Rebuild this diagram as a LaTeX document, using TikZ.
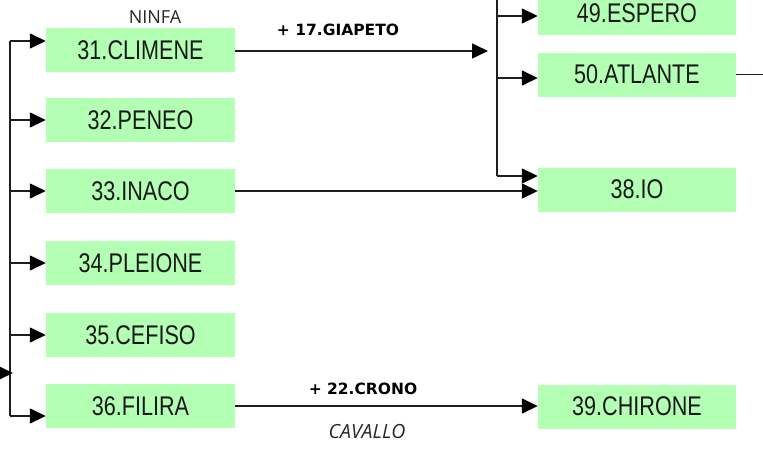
\documentclass[tikz,border=0pt]{standalone}
\usepackage{fontspec}
\setmainfont{Liberation Sans}
\newfontfamily\boxfont[FakeStretch=0.8]{Liberation Sans}
\newfontfamily\labfont{DejaVu Sans}
\newfontfamily\notefont{Open Sans}
\usetikzlibrary{arrows.meta}
\definecolor{boxgreen}{HTML}{B3FFB3}
\definecolor{linegray}{HTML}{1E1E1E}

\tikzset{
  person/.style={fill=boxgreen, draw=none, inner sep=0pt,
    minimum height=44pt, text=black!90,
    font=\boxfont\fontsize{27}{27}\selectfont},
  leftcol/.style={person, minimum width=189pt},
  rightcol/.style={person, minimum width=198pt},
  link/.style={draw=linegray, line width=1.5pt},
  arr/.style={link, -{Triangle[length=16pt,width=15pt,color=black]}},
  spouse/.style={font=\labfont\bfseries\fontsize{15.5}{15.5}\selectfont, text=black},
  note/.style={font=\notefont\fontsize{18}{18}\selectfont, text=black!85},
}

\begin{document}
\begin{tikzpicture}[x=1pt,y=1pt]
  \useasboundingbox (0,0) rectangle (763,-450);

  % left column: children
  \node[leftcol] (c31) at (140.5,-50)  {31.CLIMENE};
  \node[leftcol] (c32) at (140.5,-120) {32.PENEO};
  \node[leftcol] (c33) at (140.5,-191) {33.INACO};
  \node[leftcol] (c34) at (140.5,-263) {34.PLEIONE};
  \node[leftcol] (c35) at (140.5,-335) {35.CEFISO};
  \node[leftcol] (c36) at (140.5,-406) {36.FILIRA};

  % right column: grandchildren
  \node[rightcol] (c49) at (637,-13)    {49.ESPERO};
  \node[rightcol] (c50) at (637,-74.5)  {50.ATLANTE};
  \node[rightcol] (c38) at (637,-189.5) {38.IO};
  \node[rightcol] (c39) at (637,-406.5) {39.CHIRONE};

  % labels
  \node[note] (ninfa) at (155,-17) {NINFA};
  \node[spouse] (giap) at (338,-30) {+ 17.GIAPETO};
  \node[spouse] (cron) at (363,-389) {+ 22.CRONO};
  \node[note, font=\notefont\itshape\fontsize{19.5}{19.5}\selectfont] (cav) at (367,-432) {CAVALLO};

  % left trunk
  \coordinate (ltop) at (10,-41);
  \coordinate (lbot) at (10,-416);
  \coordinate (lin)  at (13,-373);
  \coordinate (lsrc) at (-20,-373);
  \draw[link] (ltop) -- (lbot);
  \draw[arr] (lsrc) -- (lin);
  \draw[arr] (ltop) -- (ltop -| c31.west);
  \draw[arr] (c32.west -| ltop) -- (c32.west);
  \draw[arr] (c33.west -| ltop) -- (c33.west);
  \draw[arr] (c34.west -| ltop) -- (c34.west);
  \draw[arr] (c35.west -| ltop) -- (c35.west);
  \draw[arr] (lbot) -- (lbot -| c36.west);

  % right trunk
  \coordinate (rtop) at (497,10);
  \coordinate (rbot) at (497,-176);
  \coordinate (gtip) at (488,-51);
  \draw[link] (rtop) -- (rbot);
  \draw[arr] (c31.east |- gtip) -- (gtip);
  \draw[arr] (497,-16) -- (c49.west |- 0,-16);
  \draw[arr] (497,-78) -- (c50.west |- 0,-78);
  \draw[arr] (rbot) -- (rbot -| c38.west);
  \draw[arr] (c33.east) -- (c33.east -| c38.west);

  % outgoing links
  \coordinate (aout) at (775,-74.5);
  \draw[link] (c50.east) -- (aout);
  \draw[arr] (c36.east) -- (c36.east -| c39.west);
\end{tikzpicture}
\end{document}
